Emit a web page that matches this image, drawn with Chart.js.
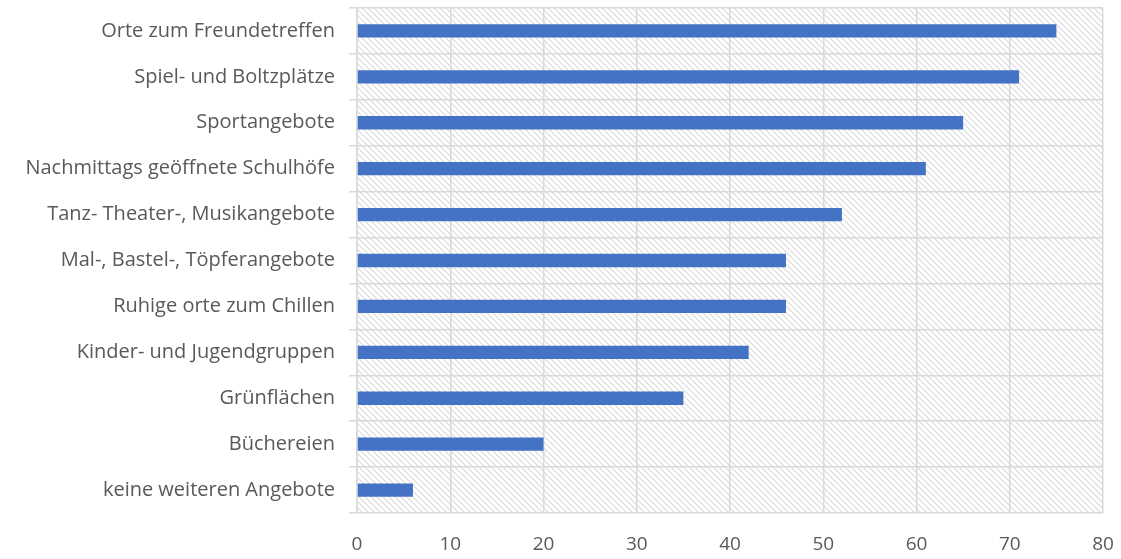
<!DOCTYPE html>
<html>
<head>
<meta charset="utf-8">
<script src="https://cdn.jsdelivr.net/npm/chart.js@4"></script>
<style>
  body { margin: 0; background: #fff; }
  #wrap { width: 1121px; height: 559px; }
</style>
</head>
<body>
<div id="wrap"><canvas id="barChart"></canvas></div>
<script>
var categories = [
  "Orte zum Freundetreffen",
  "Spiel- und Boltzplätze",
  "Sportangebote",
  "Nachmittags geöffnete Schulhöfe",
  "Tanz- Theater-, Musikangebote",
  "Mal-, Bastel-, Töpferangebote",
  "Ruhige orte zum Chillen",
  "Kinder- und Jugendgruppen",
  "Grünflächen",
  "Büchereien",
  "keine weiteren Angebote"
];
var values = [75, 71, 65, 61, 52, 46, 46, 42, 35, 20, 6];
var xTicks = [0, 10, 20, 30, 40, 50, 60, 70, 80];

// diagonal hatch behind the plot area
function makeHatch() {
  var c = document.createElement('canvas');
  c.width = 6; c.height = 6;
  var g = c.getContext('2d');
  g.strokeStyle = '#d9d9d9';
  g.lineWidth = 1.1;
  g.beginPath();
  g.moveTo(-1, -1); g.lineTo(7, 7);
  g.moveTo(-1, 5); g.lineTo(1, 7);
  g.moveTo(5, -1); g.lineTo(7, 1);
  g.stroke();
  return g.createPattern(c, 'repeat');
}

var hatchPlugin = {
  id: 'hatch',
  beforeDraw: function(chart) {
    var a = chart.chartArea;
    var ctx = chart.ctx;
    ctx.save();
    ctx.fillStyle = makeHatch();
    ctx.fillRect(a.left, a.top, a.right - a.left, a.bottom - a.top);
    ctx.restore();
  }
};

var ctx = document.getElementById('barChart').getContext('2d');
var myChart = new Chart(ctx, {
  type: 'bar',
  data: {
    labels: categories,
    datasets: [{
      data: values,
      backgroundColor: '#4472c4',
      barPercentage: 0.58,
      categoryPercentage: 0.5
    }]
  },
  options: {
    indexAxis: 'y',
    responsive: true,
    maintainAspectRatio: false,
    animation: false,
    layout: { padding: { top: 8, right: 18, left: 0, bottom: 0 } },
    plugins: {
      legend: { display: false },
      tooltip: { enabled: false }
    },
    scales: {
      x: {
        min: 0,
        max: 80,
        afterBuildTicks: function(scale) {
          scale.ticks = xTicks.map(function(v) { return { value: v }; });
        },
        afterFit: function(scale) {
          scale.height = 46;
          scale.paddingLeft = 0;
          scale.paddingRight = 0;
        },
        grid: { color: '#d9d9d9', lineWidth: 1.5, drawTicks: false },
        border: { display: false },
        ticks: {
          color: '#595959',
          font: { family: 'Open Sans', size: 19 },
          padding: 20
        }
      },
      y: {
        afterFit: function(scale) {
          scale.width = 357;
          scale.paddingTop = 0;
          scale.paddingBottom = 0;
        },
        grid: { color: '#d9d9d9', lineWidth: 1.5, offset: true, tickLength: 8 },
        border: { color: '#d9d9d9', width: 1.5 },
        ticks: {
          color: '#595959',
          font: { family: 'Open Sans', size: 20 },
          padding: 14
        }
      }
    }
  },
  plugins: [hatchPlugin]
});
</script>
</body>
</html>
